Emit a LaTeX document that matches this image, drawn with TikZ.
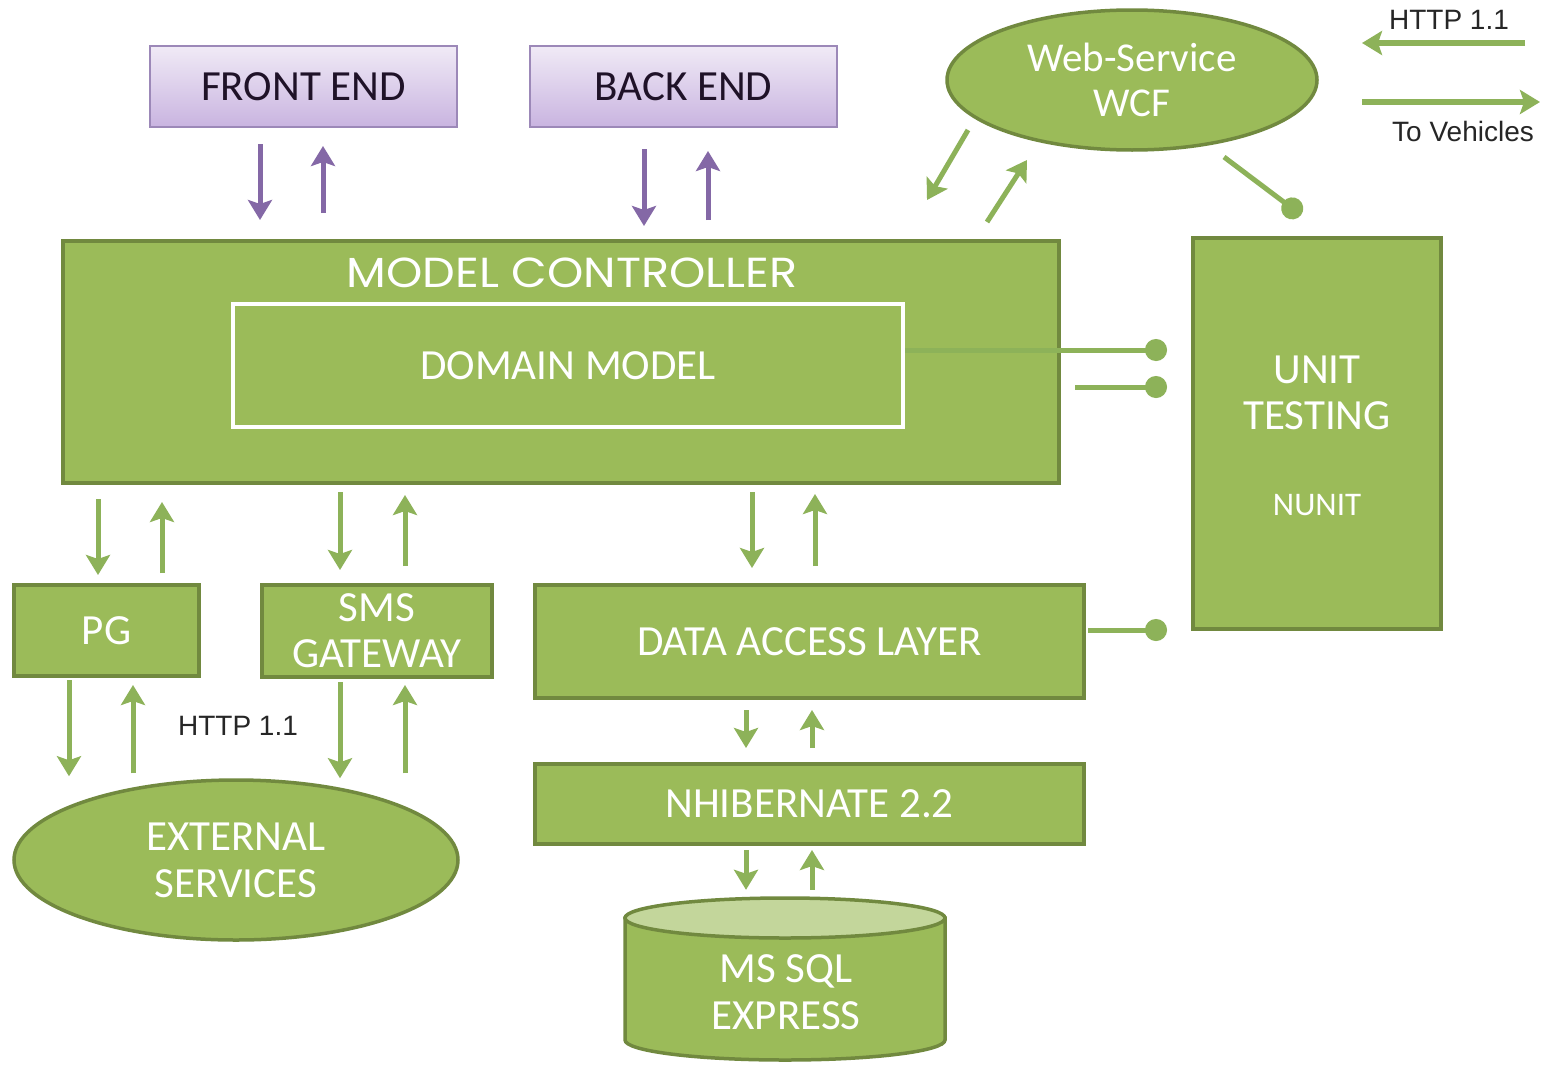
\documentclass[tikz,border=0pt]{standalone}
\usepackage{fontspec}
\setmainfont{Carlito}
\newfontfamily\titlefont[FakeStretch=1.1]{Poppins}
\newfontfamily\arialfont{Liberation Sans}
\usetikzlibrary{arrows.meta,shapes.geometric}
\definecolor{gfill}{HTML}{9BBB59}
\definecolor{gline}{HTML}{71893F}
\definecolor{garr}{HTML}{8DB259}
\definecolor{parr}{HTML}{8468A6}
\definecolor{ptop}{HTML}{F0EAF6}
\definecolor{pbot}{HTML}{C9B4E0}
\definecolor{pline}{HTML}{9C88B8}
\definecolor{dbtop}{HTML}{C3D69B}
\definecolor{ptext}{HTML}{1F1228}
\tikzset{
  gbox/.style={draw=gline, line width=4pt, fill=gfill, inner sep=0pt, text=white},
  pbox/.style={draw=pline, line width=2pt, top color=ptop, bottom color=pbot, inner sep=0pt, text=ptext},
  gell/.style={ellipse, draw=gline, line width=3.5pt, fill=gfill, inner sep=0pt, text=white, align=center},
  garrow/.style={draw=garr, line width=5pt, -{Stealth[length=20pt,width=24pt,inset=4pt]}},
  parrow/.style={draw=parr, line width=5pt, -{Stealth[length=20pt,width=24pt,inset=4pt]}},
  dotline/.style={draw=garr, line width=5pt, -{Circle[length=22pt,width=22pt]}},
  big/.style={font=\fontsize{43}{46}\selectfont},
  wtext/.style={text=white, align=center},
  smalltext/.style={font=\arialfont\fontsize{28}{30}\selectfont, text=black!85},
}
\begin{document}
\begin{tikzpicture}[x=1pt,y=-1pt]
\fill[white] (0,0) rectangle (1554,1068);
\useasboundingbox (0,0) rectangle (1554,1068);

% top boxes
\node[pbox, minimum width=307, minimum height=81, big] (fe) at (303.5,86.5) {FRONT END};
\node[pbox, minimum width=307, minimum height=81, big] (be) at (683.5,86.5) {BACK END};
\node[gell, minimum width=370, minimum height=140, font=\fontsize{41}{45}\selectfont] (ws) at (1132,80) {Web-Service\\WCF};

% model controller
\node[gbox, minimum width=996, minimum height=242] (mc) at (561,362) {};
\node[text=white, font=\titlefont\fontsize{42}{44}\selectfont] (mct) at (572,273) {MODEL CONTROLLER};
\node[gbox, draw=white, minimum width=670, minimum height=123, big] (dm) at (568,365.5) {DOMAIN MODEL};

% unit testing
\node[gbox, minimum width=248, minimum height=391] (ut) at (1317,433.5) {};
\node[wtext, font=\fontsize{43}{46}\selectfont] (utt) at (1317,393) {UNIT\\TESTING};
\node[wtext, font=\fontsize{33}{35}\selectfont] (nunit) at (1317,505) {NUNIT};

% lower boxes
\node[gbox, minimum width=185, minimum height=91, big] (pg) at (106.5,630.5) {PG};
\node[gbox, minimum width=230, minimum height=92, big, align=center] (sms) at (377,631) {SMS\\GATEWAY};
\node[gbox, minimum width=549, minimum height=113, big] (dal) at (809.5,641.5) {DATA ACCESS LAYER};
\node[gbox, minimum width=549, minimum height=80, big] (nh) at (809.5,804) {NHIBERNATE 2.2};
\node[gell, minimum width=444, minimum height=160, font=\fontsize{43}{47}\selectfont] (ext) at (236,860) {EXTERNAL\\SERVICES};

% database cylinder
\node[minimum width=320, minimum height=162, inner sep=0pt] (db) at (785,979) {};
\draw[draw=gline, line width=3.5pt, fill=gfill] (625,918) -- (625,1040) arc[start angle=180, end angle=360, x radius=160pt, y radius=20pt] -- (945,918) -- cycle;
\draw[draw=gline, line width=3.5pt, fill=dbtop] (785,918) ellipse [x radius=160pt, y radius=20pt];
\node[wtext, font=\fontsize{43}{47}\selectfont] (dbt) at (786,992) {MS SQL\\EXPRESS};

% purple arrows
\draw[parrow, shorten <=16pt, shorten >=19pt] ([xshift=-43.5pt]fe.south) -- ([xshift=-43.5pt]fe.south |- mc.north);
\draw[parrow, shorten <=26pt, shorten >=18pt] ([xshift=19.5pt]fe.south |- mc.north) -- ([xshift=19.5pt]fe.south);
\draw[parrow, shorten <=21pt, shorten >=13pt] ([xshift=-39.5pt]be.south) -- ([xshift=-39.5pt]be.south |- mc.north);
\draw[parrow, shorten <=19pt, shorten >=23pt] ([xshift=24.5pt]be.south |- mc.north) -- ([xshift=24.5pt]be.south);

% MC <-> PG / SMS / DAL
\draw[garrow, shorten <=14pt, shorten >=8pt] ([xshift=-8.5pt]pg.north |- mc.south) -- ([xshift=-8.5pt]pg.north);
\draw[garrow, shorten <=10pt, shorten >=17pt] ([xshift=55.5pt]pg.north) -- ([xshift=55.5pt]pg.north |- mc.south);
\draw[garrow, shorten <=7pt, shorten >=13pt] ([xshift=-37pt]sms.north |- mc.south) -- ([xshift=-37pt]sms.north);
\draw[garrow, shorten <=17pt, shorten >=10pt] ([xshift=28pt]sms.north) -- ([xshift=28pt]sms.north |- mc.south);
\draw[garrow, shorten <=7pt, shorten >=15pt] ([xshift=-57.5pt]dal.north |- mc.south) -- ([xshift=-57.5pt]dal.north);
\draw[garrow, shorten <=17pt, shorten >=9pt] ([xshift=5.5pt]dal.north) -- ([xshift=5.5pt]dal.north |- mc.south);

% PG / SMS <-> external services
\draw[garrow, shorten <=2pt, shorten >=2pt] ([xshift=-37.5pt]pg.south) -- ([xshift=-37.5pt]pg.south |- ext.north);
\draw[garrow, shorten <=5pt, shorten >=7pt] ([xshift=26.5pt]pg.south |- ext.north) -- ([xshift=26.5pt]pg.south);
\draw[garrow, shorten <=3pt, shorten >=0pt] ([xshift=-37pt]sms.south) -- ([xshift=-37pt]sms.south |- ext.north);
\draw[garrow, shorten <=5pt, shorten >=6pt] ([xshift=28pt]sms.south |- ext.north) -- ([xshift=28pt]sms.south);
\node[smalltext] (http2) at (238,726) {HTTP 1.1};

% DAL <-> NH <-> DB
\draw[garrow, shorten <=10pt, shorten >=14pt] ([xshift=-63.5pt]dal.south) -- ([xshift=-63.5pt]dal.south |- nh.north);
\draw[garrow, shorten <=14pt, shorten >=10pt] ([xshift=2.5pt]dal.south |- nh.north) -- ([xshift=2.5pt]dal.south);
\draw[garrow, shorten <=4pt, shorten >=8pt] ([xshift=-63.5pt]nh.south) -- ([xshift=-63.5pt]nh.south |- db.north);
\draw[garrow, shorten <=8pt, shorten >=4pt] ([xshift=2.5pt]nh.south |- db.north) -- ([xshift=2.5pt]nh.south);

% WCF <-> MC diagonal arrows
\coordinate (a1s) at (968,130);
\coordinate (a1e) at (927,200);
\coordinate (a2s) at (987,222);
\coordinate (a2e) at (1027,160);
\draw[garrow] (a1s) -- (a1e);
\draw[garrow] (a2s) -- (a2e);

% unit testing ball connectors
\coordinate (wsl) at (1224,157);
\coordinate (wsd) at (1301,215);
\draw[dotline] (wsl) -- (wsd);
\draw[dotline, shorten >=24pt] ([yshift=15.5pt]dm.east) -- ([yshift=15.5pt]dm.east -| ut.west);
\draw[dotline, shorten <=14pt, shorten >=24pt] ([yshift=-21.5pt]dm.east -| mc.east) -- ([yshift=-21.5pt]dm.east -| ut.west);
\draw[dotline, shorten <=2pt, shorten >=24pt] ([yshift=11.5pt]dal.east) -- ([yshift=11.5pt]dal.east -| ut.west);

% legend top right
\coordinate (h1s) at (1525,43);
\coordinate (h1e) at (1362,43);
\coordinate (v1s) at (1362,102);
\coordinate (v1e) at (1540,102);
\draw[garrow, line width=6pt] (h1s) -- (h1e);
\draw[garrow, line width=6pt] (v1s) -- (v1e);
\node[smalltext] (http1) at (1449,20) {HTTP 1.1};
\node[smalltext] (tov) at (1463,131) {To Vehicles};
\end{tikzpicture}
\end{document}
